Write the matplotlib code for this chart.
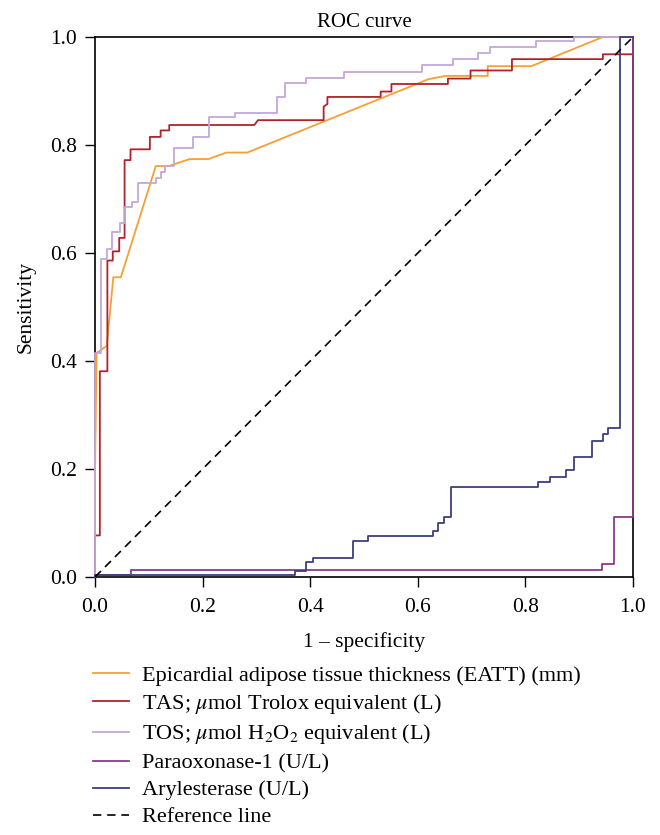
import matplotlib
matplotlib.use("Agg")
import matplotlib.pyplot as plt

plt.rcParams['font.family'] = ['Liberation Serif', 'DejaVu Serif']
plt.rcParams['mathtext.fontset'] = 'stix'

# ROC curves (1 - specificity, sensitivity)

eatt_fpr = [0, 0, 0.003, 0.022, 0.034, 0.048, 0.113, 0.137, 0.176, 0.211, 0.244, 0.283,
            0.620, 0.652, 0.730, 0.730, 0.811, 0.944, 1.0]
eatt_tpr = [0, 0.194, 0.415, 0.428, 0.555, 0.555, 0.761, 0.761, 0.774, 0.774, 0.786, 0.786,
            0.922, 0.928, 0.928, 0.946, 0.946, 1.0, 1.0]

tas_fpr = [0, 0, 0.009, 0.009, 0.023, 0.023, 0.033, 0.033, 0.045, 0.045, 0.055, 0.055,
           0.066, 0.066, 0.102, 0.102, 0.122, 0.122, 0.138, 0.138, 0.296, 0.303, 0.425,
           0.425, 0.432, 0.432, 0.531, 0.531, 0.551, 0.551, 0.656, 0.656, 0.698, 0.698,
           0.775, 0.775, 0.944, 0.944, 1.0, 1.0]
tas_tpr = [0, 0.077, 0.077, 0.381, 0.381, 0.586, 0.586, 0.603, 0.603, 0.628, 0.628, 0.772,
           0.772, 0.792, 0.792, 0.815, 0.815, 0.827, 0.827, 0.837, 0.837, 0.846, 0.846,
           0.871, 0.876, 0.889, 0.889, 0.899, 0.899, 0.913, 0.913, 0.923, 0.923, 0.938,
           0.938, 0.959, 0.959, 0.968, 0.968, 1.0]

tos_fpr = [0, 0, 0.0105, 0.0105, 0.023, 0.023, 0.032, 0.032, 0.046, 0.046, 0.055, 0.055,
           0.068, 0.068, 0.080, 0.080, 0.114, 0.114, 0.122, 0.122, 0.131, 0.131, 0.146,
           0.146, 0.182, 0.182, 0.211, 0.211, 0.261, 0.261, 0.338, 0.338, 0.353, 0.353,
           0.392, 0.392, 0.462, 0.462, 0.608, 0.608, 0.665, 0.665, 0.711, 0.711, 0.735,
           0.735, 0.819, 0.819, 0.890, 0.890, 1.0]
tos_tpr = [0, 0.415, 0.415, 0.588, 0.588, 0.608, 0.608, 0.639, 0.639, 0.655, 0.655, 0.686,
           0.686, 0.695, 0.695, 0.729, 0.729, 0.739, 0.739, 0.750, 0.750, 0.761, 0.761,
           0.794, 0.794, 0.814, 0.814, 0.851, 0.851, 0.860, 0.860, 0.889, 0.889, 0.914,
           0.914, 0.925, 0.925, 0.936, 0.936, 0.949, 0.949, 0.960, 0.960, 0.971, 0.971,
           0.982, 0.982, 0.992, 0.992, 1.0, 1.0]

pon_fpr = [0, 0, 0.067, 0.067, 0.943, 0.943, 0.965, 0.965, 1.0, 1.0]
pon_tpr = [0, 0.003, 0.003, 0.013, 0.013, 0.025, 0.025, 0.112, 0.112, 1.0]

ary_fpr = [0, 0, 0.372, 0.372, 0.393, 0.393, 0.406, 0.406, 0.479, 0.479, 0.508, 0.508,
           0.629, 0.629, 0.637, 0.637, 0.649, 0.649, 0.661, 0.661, 0.823, 0.823, 0.845,
           0.845, 0.876, 0.876, 0.890, 0.890, 0.923, 0.923, 0.944, 0.944, 0.954, 0.954,
           0.976, 0.976, 1.0]
ary_tpr = [0, 0.004, 0.004, 0.012, 0.012, 0.027, 0.027, 0.036, 0.036, 0.066, 0.066, 0.076,
           0.076, 0.086, 0.086, 0.0995, 0.0995, 0.112, 0.112, 0.166, 0.166, 0.176, 0.176,
           0.185, 0.185, 0.199, 0.199, 0.222, 0.222, 0.251, 0.251, 0.264, 0.264, 0.276,
           0.276, 1.0, 1.0]

ticks = [0.0, 0.2, 0.4, 0.6, 0.8, 1.0]

curves = [
    (eatt_fpr, eatt_tpr, '#F5A035', 'Epicardial adipose tissue thickness (EATT) (mm)'),
    (tas_fpr, tas_tpr, '#B0232B', r'TAS; $\mathit{\mu}$mol Trolox equivalent (L)'),
    (tos_fpr, tos_tpr, '#C3A8D8', r'TOS; $\mathit{\mu}$mol H$_2$O$_2$ equivalent (L)'),
    (pon_fpr, pon_tpr, '#8A3A88', 'Paraoxonase-1 (U/L)'),
    (ary_fpr, ary_tpr, '#3E3F7C', 'Arylesterase (U/L)'),
]

fig = plt.figure(figsize=(6.6, 8.35), dpi=100)
ax = fig.add_axes([95 / 660, 258 / 835, 538 / 660, 540 / 835])

for fpr, tpr, col, lab in curves:
    ax.plot(fpr, tpr, color=col, lw=1.3, label=lab, clip_on=False, zorder=3)

ax.plot([0, 1], [0, 1], color='black', lw=1.2, linestyle=(0, (5, 3.5)),
        label='Reference line', zorder=3)

ax.set_xlim(0, 1)
ax.set_ylim(0, 1)
ax.set_xticks(ticks)
ax.set_yticks(ticks)
ax.set_xticklabels([f"{t:.1f}" for t in ticks])
ax.set_yticklabels([f"{t:.1f}" for t in ticks])
ax.tick_params(direction='out', length=7, width=1.0, labelsize=15.5, pad=6)
ax.tick_params(axis='x', pad=8)
ax.tick_params(top=False, right=False)
for s in ax.spines.values():
    s.set_linewidth(1.2)

ax.set_title("ROC curve", fontsize=15, pad=7)
ax.set_xlabel("1 \u2013 specificity", fontsize=15.5, labelpad=11)
ax.set_ylabel("Sensitivity", fontsize=15.5, labelpad=10)

fig.legend(loc='upper left', bbox_to_anchor=(93 / 660, 1 - 665 / 835),
           frameon=False, fontsize=16, handlelength=1.6, handletextpad=0.6,
           labelspacing=0.29, borderpad=0, borderaxespad=0)

fig.savefig("out.png", dpi=100)
